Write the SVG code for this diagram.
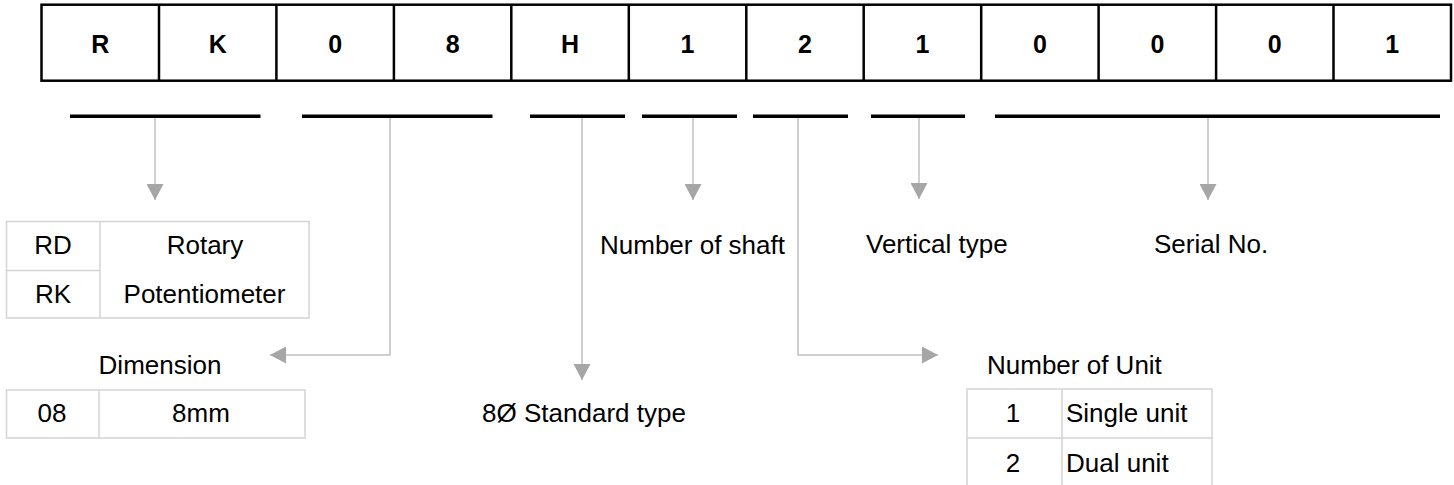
<svg xmlns="http://www.w3.org/2000/svg" width="1454" height="485" viewBox="0 0 1454 485">
<style>
.cell{fill:#fff;stroke:#000;stroke-width:2.5}
.code{font-family:"Liberation Sans",Arial,sans-serif;font-weight:bold;font-size:25px;fill:#000;text-anchor:middle}
.bar{fill:#000}
.t{font-family:"Liberation Sans",Arial,sans-serif;font-size:26px;fill:#000}
.m{text-anchor:middle}
.tbl{fill:none;stroke:#d4d4d4;stroke-width:1.5}
.conn{fill:none;stroke:#c0c0c0;stroke-width:1.5;marker-end:url(#ah)}
</style>
<defs>
<marker id="ah" markerUnits="userSpaceOnUse" markerWidth="16" markerHeight="17" viewBox="0 0 16 17" refX="16" refY="8.5" orient="auto">
<path d="M0,0 L16,8.5 L0,17 Z" fill="#a6a6a6"/>
</marker>
</defs>
<rect width="1454" height="485" fill="#fff"/>
<g id="code-boxes">
<rect class="cell" x="41.5" y="4.7" width="1409.5" height="76"/>
<path d="M159,4.7V80.7M276.4,4.7V80.7M393.9,4.7V80.7M511.3,4.7V80.7M628.8,4.7V80.7M746.3,4.7V80.7M863.7,4.7V80.7M981.2,4.7V80.7M1098.6,4.7V80.7M1216.1,4.7V80.7M1333.5,4.7V80.7" stroke="#000" stroke-width="2.5" fill="none"/>
<text class="code" x="100.2" y="53">R</text>
<text class="code" x="217.7" y="53">K</text>
<text class="code" x="335.2" y="53">0</text>
<text class="code" x="452.6" y="53">8</text>
<text class="code" x="570.1" y="53">H</text>
<text class="code" x="687.5" y="53">1</text>
<text class="code" x="805" y="53">2</text>
<text class="code" x="922.5" y="53">1</text>
<text class="code" x="1039.9" y="53">0</text>
<text class="code" x="1157.4" y="53">0</text>
<text class="code" x="1274.8" y="53">0</text>
<text class="code" x="1392.3" y="53">1</text>
</g>
<g id="connectors">
<path class="conn" d="M155,117V200"/>
<path class="conn" d="M390,117V355H270"/>
<path class="conn" d="M582,117V380"/>
<path class="conn" d="M693,117V200"/>
<path class="conn" d="M798,117V355H938"/>
<path class="conn" d="M919,117V199"/>
<path class="conn" d="M1208,117V200"/>
</g>
<g id="bars">
<rect class="bar" x="70" y="114.5" width="190.5" height="3.5"/>
<rect class="bar" x="302" y="114.5" width="190.5" height="3.5"/>
<rect class="bar" x="530" y="114.5" width="95" height="3.5"/>
<rect class="bar" x="642" y="114.5" width="95" height="3.5"/>
<rect class="bar" x="753" y="114.5" width="95" height="3.5"/>
<rect class="bar" x="871" y="114.5" width="94" height="3.5"/>
<rect class="bar" x="995" y="114.5" width="445" height="3.5"/>
</g>
<g id="type-table">
<rect class="tbl" x="6.5" y="221.5" width="302.5" height="96.5"/>
<path class="tbl" d="M100,221.5V318M6.5,270.5H100"/>
<text class="t m" x="53" y="254">RD</text>
<text class="t m" x="205" y="254">Rotary</text>
<text class="t m" x="53" y="303">RK</text>
<text class="t m" x="204.5" y="303">Potentiometer</text>
</g>
<g id="dimension">
<text class="t m" x="160" y="374">Dimension</text>
<rect class="tbl" x="6.5" y="390" width="298.5" height="48"/>
<path class="tbl" d="M99,390V438"/>
<text class="t m" x="52" y="422">08</text>
<text class="t m" x="201" y="422">8mm</text>
</g>
<g id="standard-type">
<text class="t m" x="584" y="422">8Ø Standard type</text>
</g>
<g id="number-of-shaft">
<text class="t m" x="692.5" y="254">Number of shaft</text>
</g>
<g id="vertical-type">
<text class="t" x="866" y="253">Vertical type</text>
</g>
<g id="serial-no">
<text class="t" x="1154" y="253">Serial No.</text>
</g>
<g id="number-of-unit">
<text class="t" x="987" y="374">Number of Unit</text>
<rect class="tbl" x="967" y="389" width="245" height="100"/>
<path class="tbl" d="M1062,389V489M967,438H1212"/>
<text class="t m" x="1013" y="422">1</text>
<text class="t" x="1066" y="422">Single unit</text>
<text class="t m" x="1013" y="472">2</text>
<text class="t" x="1066" y="472">Dual unit</text>
</g>
</svg>
